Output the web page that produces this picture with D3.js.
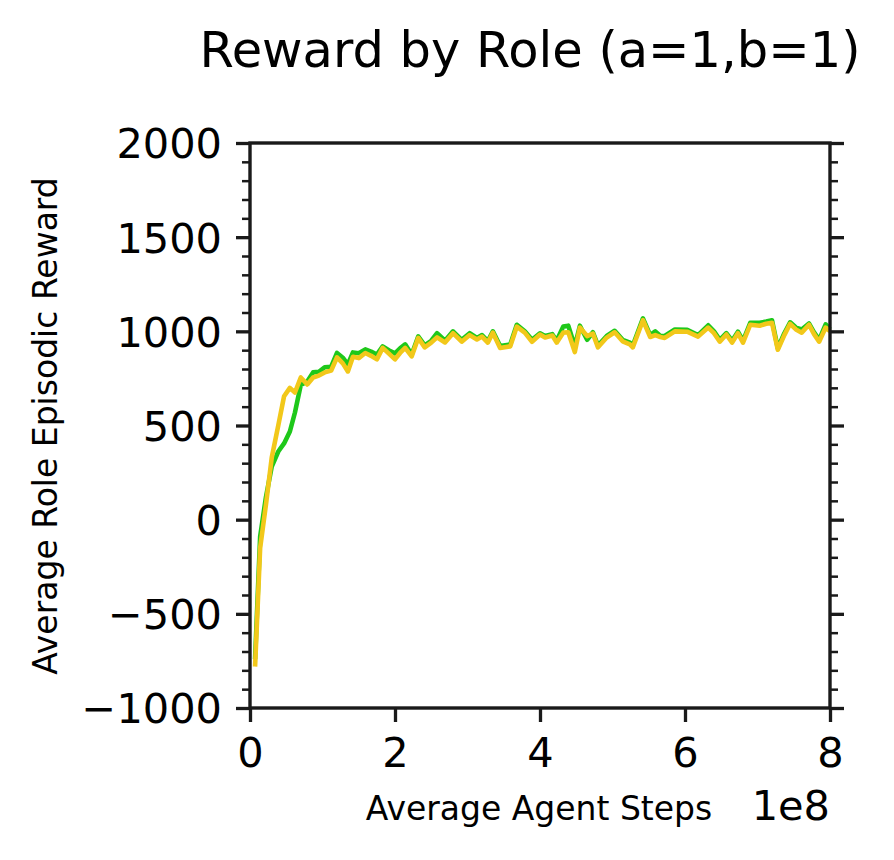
<!DOCTYPE html>
<html>
<head>
<meta charset="utf-8">
<script src="https://cdn.jsdelivr.net/npm/d3@7"></script>
<style>
  body{margin:0;background:#fff;}
  text{font-family:"DejaVu Sans",sans-serif;fill:#000;}
</style>
</head>
<body>
<div class="container"></div>
<script>
const steps=[7e6,14e6,22e6,30e6,39e6,47e6,55e6,62e6,70e6,79e6,87e6,95e6,103e6,112e6,120e6,128e6,135e6,142e6,150e6,159e6,
  167e6,175e6,183e6,192e6,200e6,207e6,214e6,223e6,232e6,241e6,250e6,258e6,269e6,280e6,292e6,303e6,313e6,320e6,328e6,335e6,
  345e6,359e6,368e6,379e6,389e6,400e6,407e6,417e6,423e6,432e6,439e6,448e6,455e6,465e6,473e6,480e6,492e6,503e6,514e6,524e6,
  528e6,542e6,552e6,559e6,566e6,572e6,586e6,603e6,618e6,632e6,640e6,648e6,657e6,665e6,673e6,680e6,690e6,703e6,712e6,720e6,
  728e6,737e6,745e6,753e6,761e6,771e6,778e6,785e6,794e6,800e6];

const greenReward=[-740,-90,120,282,362,405,468,569,715,734,782,785,809,812,885,860,824,888,884,904,
  892,877,920,898,883,910,931,877,973,925,950,990,950,1000,955,990,965,980,948,1000,
  922,930,1035,1000,955,990,975,985,950,1025,1030,920,1030,955,995,925,975,1003,955,940,
  925,1069,980,1000,975,975,1010,1008,980,1032,1000,955,990,950,998,950,1045,1045,1052,1059,
  910,990,1048,1020,1010,1042,995,955,1037,1010];

const yellowReward=[-780,-150,80,330,500,655,700,675,755,718,755,765,782,792,862,830,787,865,858,885,
  870,851,912,880,851,885,912,867,965,915,940,968,941,990,945,980,957,972,940,993,
  912,920,1025,993,945,983,967,978,940,993,995,890,1020,975,988,915,967,995,947,931,
  915,1059,970,980,970,965,1000,998,972,1020,990,945,983,940,990,940,1035,1030,1040,1045,
  902,980,1040,1010,993,1035,985,945,1020,1000];

const xTicks=[0,2e8,4e8,6e8,8e8];
const yTicks=[-1000,-500,0,500,1000,1500,2000];

const W=894,H=860;
const m={left:250,right:64,top:143,bottom:152};

const svg=d3.select('.container').append('svg')
  .attr('width',W).attr('height',H);

const x=d3.scaleLinear().domain([0,8e8]).range([m.left,W-m.right]);
const y=d3.scaleLinear().domain([-1000,2000]).range([H-m.bottom,m.top]);

let yMinor=d3.range(-1000,2001,100).filter(v=>v%500!==0);

// left axis
svg.append('g').attr('transform',`translate(${m.left},0)`)
  .call(d3.axisLeft(y).tickValues(yTicks).tickSize(14).tickPadding(14)
    .tickFormat(d=>d<0?'\u2212'+Math.abs(d):d))
  .call(g=>g.select('.domain').remove())
  .call(g=>g.selectAll('.tick text').style('font-size','41.5px').attr('dy','0.36em'));
svg.append('g').attr('class','minor').attr('transform',`translate(${m.left},0)`)
  .call(d3.axisLeft(y).tickValues(yMinor).tickSize(8).tickFormat(''))
  .call(g=>g.select('.domain').remove());

// right axis (ticks only)
svg.append('g').attr('transform',`translate(${W-m.right},0)`)
  .call(d3.axisRight(y).tickValues(yTicks).tickSize(14).tickFormat(''))
  .call(g=>g.select('.domain').remove());
svg.append('g').attr('class','minor').attr('transform',`translate(${W-m.right},0)`)
  .call(d3.axisRight(y).tickValues(yMinor).tickSize(8).tickFormat(''))
  .call(g=>g.select('.domain').remove());

// bottom axis
svg.append('g').attr('transform',`translate(0,${H-m.bottom})`)
  .call(d3.axisBottom(x).tickValues(xTicks).tickSize(14).tickPadding(14)
    .tickFormat(d=>d/1e8))
  .call(g=>g.select('.domain').remove())
  .call(g=>g.selectAll('.tick text').style('font-size','41.5px').attr('dy','0.74em'));

svg.selectAll('.tick line').attr('stroke','#1a1a1a').attr('stroke-width',3.3);
svg.selectAll('.minor .tick line').attr('stroke-width',2.5);

// lines
let line=(vals)=>d3.line().x((d,i)=>x(steps[i])).y(d=>y(d))(vals);

svg.append('path').attr('d',line(greenReward))
  .attr('fill','none').attr('stroke','#1ec81a').attr('stroke-width',4.6).attr('stroke-linejoin','round');
svg.append('path').attr('d',line(yellowReward))
  .attr('fill','none').attr('stroke','#f2c81a').attr('stroke-width',4.6).attr('stroke-linejoin','round');

// frame
svg.append('rect')
  .attr('x',m.left).attr('y',m.top)
  .attr('width',W-m.left-m.right).attr('height',H-m.top-m.bottom)
  .attr('fill','none').attr('stroke','#1a1a1a').attr('stroke-width',3.4);

// texts
svg.append('text').attr('x',530).attr('y',67).attr('text-anchor','middle')
  .style('font-size','49.5px').text('Reward by Role (a=1,b=1)');

svg.append('text').attr('transform','translate(57,426) rotate(-90)')
  .attr('text-anchor','middle').style('font-size','33px')
  .text('Average Role Episodic Reward');

svg.append('text').attr('x',539).attr('y',820).attr('text-anchor','middle')
  .style('font-size','33px').text('Average Agent Steps');

svg.append('text').attr('x',830).attr('y',820).attr('text-anchor','end')
  .style('font-size','41.5px').text('1e8');
</script>
</body>
</html>
